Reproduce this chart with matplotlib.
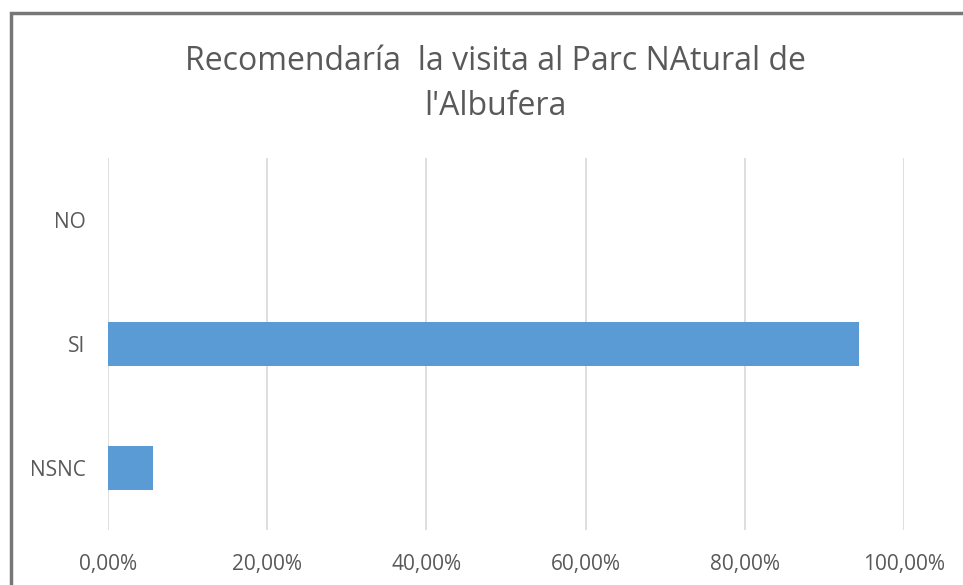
import matplotlib.pyplot as plt
from matplotlib.patches import Rectangle
from matplotlib.ticker import FuncFormatter

categories = ["NSNC", "SI", "NO"]
values = [0.0571, 0.9429, 0.0]
title = "Recomendaría  la visita al Parc NAtural de\nl'Albufera"

W, H = 963, 585
fig = plt.figure(figsize=(W / 100, H / 100), dpi=100)
plt.rcParams['font.family'] = ['Open Sans', 'DejaVu Sans']

# plot area placed like the excel screenshot
ax = fig.add_axes([108 / W, 1 - 530 / H, (904 - 108) / W, (530 - 158) / H])
ax.barh(range(len(categories)), values, height=0.355, color="#5B9BD5", zorder=3)
ax.set_xlim(0, 1)
ax.set_ylim(-0.5, len(categories) - 0.5)
ax.set_yticks(range(len(categories)))
ax.set_yticklabels(categories)
ax.set_xticks([0, 0.2, 0.4, 0.6, 0.8, 1.0])
ax.xaxis.set_major_formatter(FuncFormatter(lambda v, p: f"{v*100:.2f}%".replace(".", ",")))
ax.grid(axis="x", color="#D9D9D9", linewidth=1.2, zorder=0)
for s in ax.spines.values():
    s.set_visible(False)
ax.tick_params(length=0, labelsize=15, colors="#595959")
ax.tick_params(axis="y", pad=16)
ax.tick_params(axis="x", pad=17)

fig.text(495 / W, 1 - 84 / H, title, ha="center", va="center",
         fontsize=23, color="#595959", linespacing=1.45)

# gray chart frame (cut at right and bottom)
fig.patches.append(Rectangle((11 / W, -0.1), 1.2, 1 - 13 / H + 0.1,
                             transform=fig.transFigure, fill=False,
                             edgecolor="#777777", linewidth=2.5))

fig.savefig("out.png", dpi=100)
